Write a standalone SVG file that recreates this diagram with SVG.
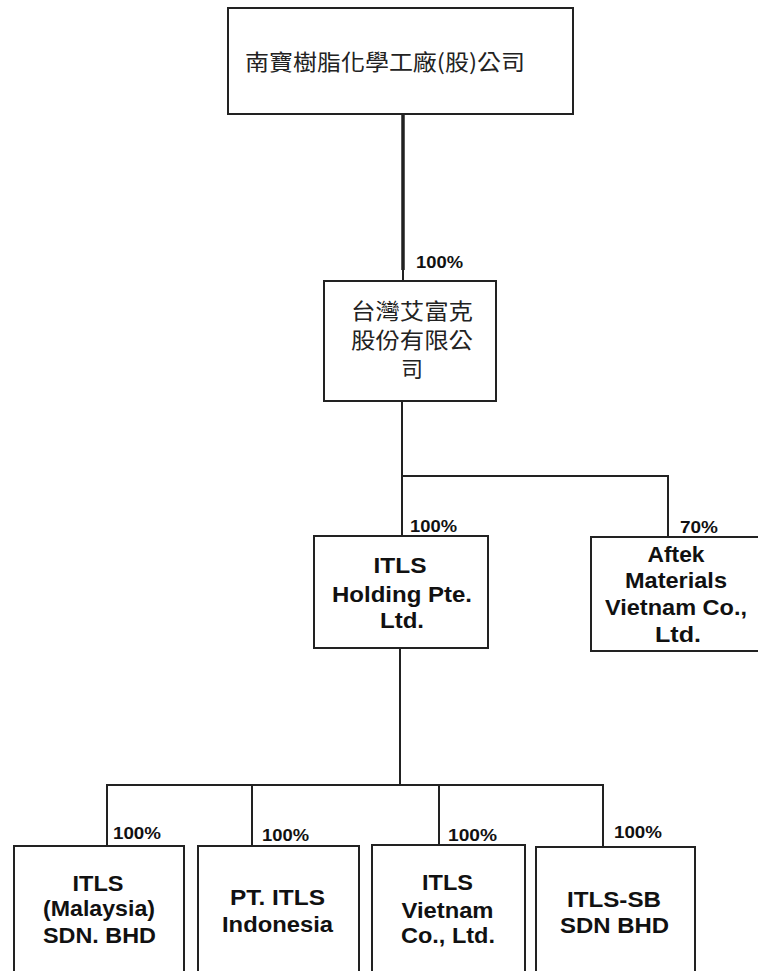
<svg xmlns="http://www.w3.org/2000/svg" width="758" height="971" viewBox="0 0 758 971">
  <style>
    .box { fill: #ffffff; stroke: #222222; stroke-width: 2; }
    .ln { stroke: #222222; stroke-width: 2; fill: none; }
    .thick { stroke: #222222; stroke-width: 3.5; fill: none; }
    .cjk { font-family: "Noto Sans CJK TC", "Noto Sans CJK SC", sans-serif; font-size: 22px; fill: #222222; text-anchor: middle; }
    .en { font-family: "Liberation Sans", Arial, sans-serif; font-weight: bold; font-size: 22px; fill: #111111; text-anchor: middle; }
    .pct { font-family: "Liberation Sans", Arial, sans-serif; font-weight: bold; font-size: 17px; fill: #111111; }
  </style>
  <rect x="0" y="0" width="758" height="971" fill="#ffffff"/>

  <g id="connectors">
    <line class="thick" x1="403" y1="114" x2="403" y2="270"/>
    <line class="ln" x1="403" y1="268" x2="403" y2="282"/>
    <line class="ln" x1="402" y1="401" x2="402" y2="537"/>
    <line class="ln" x1="401" y1="476" x2="669" y2="476"/>
    <line class="ln" x1="668" y1="476" x2="668" y2="538"/>
    <line class="ln" x1="400" y1="648" x2="400" y2="785"/>
    <line class="ln" x1="106" y1="785" x2="604" y2="785"/>
    <line class="ln" x1="107" y1="785" x2="107" y2="846"/>
    <line class="ln" x1="252" y1="785" x2="252" y2="846"/>
    <line class="ln" x1="439" y1="785" x2="439" y2="848"/>
    <line class="ln" x1="603" y1="785" x2="603" y2="847"/>
    <text class="pct" x="416" y="268" textLength="47" lengthAdjust="spacingAndGlyphs">100%</text>
    <text class="pct" x="410" y="532" textLength="47" lengthAdjust="spacingAndGlyphs">100%</text>
    <text class="pct" x="680" y="533" textLength="38" lengthAdjust="spacingAndGlyphs">70%</text>
    <text class="pct" x="113" y="839" textLength="48" lengthAdjust="spacingAndGlyphs">100%</text>
    <text class="pct" x="262" y="841" textLength="47" lengthAdjust="spacingAndGlyphs">100%</text>
    <text class="pct" x="448" y="841" textLength="49" lengthAdjust="spacingAndGlyphs">100%</text>
    <text class="pct" x="614" y="838" textLength="48" lengthAdjust="spacingAndGlyphs">100%</text>
  </g>

  <g id="node-nanpao">
    <rect class="box" x="228" y="8" width="345" height="106"/>
    <text class="cjk" x="385" y="70" font-size="26" textLength="280" lengthAdjust="spacingAndGlyphs">南寶樹脂化學工廠(股)公司</text>
  </g>

  <g id="node-taiwan-aftek">
    <rect class="box" x="324" y="281" width="172" height="120"/>
    <text class="cjk" x="412" y="319" textLength="122" lengthAdjust="spacingAndGlyphs">台灣艾富克</text>
    <text class="cjk" x="412" y="348" textLength="122" lengthAdjust="spacingAndGlyphs">股份有限公</text>
    <text class="cjk" x="412" y="377">司</text>
  </g>

  <g id="node-itls-holding">
    <rect class="box" x="314" y="536" width="174" height="112"/>
    <text class="en" x="400" y="573" textLength="53" lengthAdjust="spacingAndGlyphs">ITLS</text>
    <text class="en" x="402" y="602" textLength="140" lengthAdjust="spacingAndGlyphs">Holding Pte.</text>
    <text class="en" x="402" y="628" textLength="44" lengthAdjust="spacingAndGlyphs">Ltd.</text>
  </g>

  <g id="node-aftek-vietnam">
    <rect class="box" x="591" y="537" width="180" height="114"/>
    <text class="en" x="676" y="562" textLength="57" lengthAdjust="spacingAndGlyphs">Aftek</text>
    <text class="en" x="676" y="588" textLength="102" lengthAdjust="spacingAndGlyphs">Materials</text>
    <text class="en" x="676" y="615" textLength="142" lengthAdjust="spacingAndGlyphs">Vietnam Co.,</text>
    <text class="en" x="678" y="642" textLength="46" lengthAdjust="spacingAndGlyphs">Ltd.</text>
  </g>

  <g id="node-itls-malaysia">
    <rect class="box" x="14" y="846" width="170" height="140"/>
    <text class="en" x="98" y="891" textLength="51" lengthAdjust="spacingAndGlyphs">ITLS</text>
    <text class="en" x="99" y="916" textLength="112" lengthAdjust="spacingAndGlyphs">(Malaysia)</text>
    <text class="en" x="99.5" y="943" textLength="113" lengthAdjust="spacingAndGlyphs">SDN. BHD</text>
  </g>

  <g id="node-pt-itls-indonesia">
    <rect class="box" x="198" y="846" width="161" height="140"/>
    <text class="en" x="277.5" y="905" textLength="95" lengthAdjust="spacingAndGlyphs">PT. ITLS</text>
    <text class="en" x="277.5" y="932" textLength="111" lengthAdjust="spacingAndGlyphs">Indonesia</text>
  </g>

  <g id="node-itls-vietnam">
    <rect class="box" x="372" y="845" width="153" height="140"/>
    <text class="en" x="447.5" y="890" textLength="51" lengthAdjust="spacingAndGlyphs">ITLS</text>
    <text class="en" x="447.5" y="918" textLength="92" lengthAdjust="spacingAndGlyphs">Vietnam</text>
    <text class="en" x="448" y="943" textLength="94" lengthAdjust="spacingAndGlyphs">Co., Ltd.</text>
  </g>

  <g id="node-itls-sb">
    <rect class="box" x="536" y="847" width="159" height="140"/>
    <text class="en" x="614" y="907" textLength="94" lengthAdjust="spacingAndGlyphs">ITLS-SB</text>
    <text class="en" x="614.5" y="933" textLength="109" lengthAdjust="spacingAndGlyphs">SDN BHD</text>
  </g>
</svg>
